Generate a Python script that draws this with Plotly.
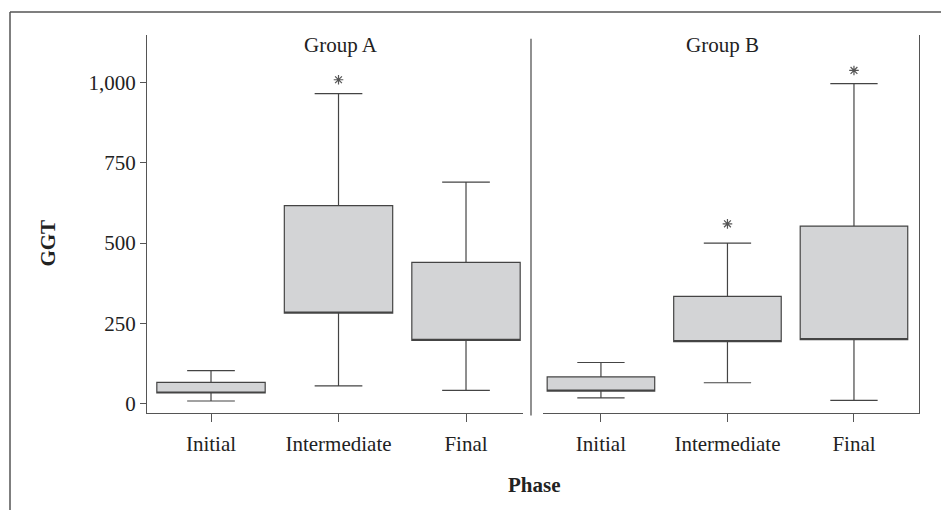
import plotly.graph_objects as go

phases = ["Initial", "Intermediate", "Final"]

# Group A box statistics (GGT)
a_lower = [8, 55, 41]
a_q1 = [33, 282, 197]
a_q3 = [66, 617, 440]
a_upper = [103, 966, 690]
a_out_x = ["Intermediate"]
a_out_y = [1009]

# Group B box statistics (GGT)
b_lower = [18, 65, 10]
b_q1 = [39, 193, 199]
b_q3 = [83, 334, 553]
b_upper = [128, 500, 997]
b_out_x = ["Intermediate", "Final"]
b_out_y = [560, 1038]

yticks = [0, 250, 500, 750, 1000]

W, H = 941, 513
FONT = "Liberation Serif"
FS = 21
FILL = "#d3d4d6"
LINE = "#444444"
TXT = "#222222"


def px(x):
    return x / W


def py(y):
    return 1 - y / H


fig = go.Figure()

for xa, ya, lo, q1, q3, up, ox, oy in [
    ("x", "y", a_lower, a_q1, a_q3, a_upper, a_out_x, a_out_y),
    ("x2", "y2", b_lower, b_q1, b_q3, b_upper, b_out_x, b_out_y),
]:
    fig.add_trace(go.Box(
        x=phases, q1=q1, median=q1, q3=q3, lowerfence=lo, upperfence=up,
        xaxis=xa, yaxis=ya, fillcolor=FILL,
        line=dict(color=LINE, width=1.2), width=0.85, whiskerwidth=0.44,
        boxpoints=False, showlegend=False, hoverinfo="skip",
    ))
    fig.add_trace(go.Scatter(
        x=ox, y=oy, xaxis=xa, yaxis=ya, mode="markers",
        marker=dict(symbol="asterisk-open", size=8, color="#555555",
                    line=dict(color="#555555", width=1.2)),
        showlegend=False, hoverinfo="skip",
    ))

yr = [-28, 1149]
ydom = [py(415), py(35)]
axis_common = dict(showgrid=False, zeroline=False, showline=True,
                   linecolor="#555555", linewidth=1.3,
                   tickfont=dict(family=FONT, size=FS, color=TXT))

fig.update_layout(
    width=W, height=H, margin=dict(l=0, r=0, t=0, b=0),
    paper_bgcolor="white", plot_bgcolor="white",
    font=dict(family=FONT, size=FS, color=TXT),
    xaxis=dict(domain=[px(147), px(523)], range=[-0.502, 2.447],
               type="category", ticks="outside", ticklen=8, tickcolor="#555555",
               ticklabelstandoff=4, anchor="y", **axis_common),
    xaxis2=dict(domain=[px(543), px(919)], range=[-0.458, 2.514],
                type="category", ticks="outside", ticklen=8, tickcolor="#555555",
                ticklabelstandoff=4, anchor="y2", **axis_common),
    yaxis=dict(domain=ydom, range=yr, tickvals=yticks, tickformat=",",
               ticks="outside", ticklen=6, tickcolor="#555555",
               ticklabelstandoff=0, anchor="x", **axis_common),
    yaxis2=dict(domain=ydom, range=yr, tickvals=yticks, showticklabels=False,
                ticks="", side="right", anchor="x2", **axis_common),
)

fig.add_annotation(text="Group A", x="Intermediate", xref="x", y=py(45), yref="paper",
                   showarrow=False, font=dict(family=FONT, size=FS, color=TXT),
                   xanchor="center", yanchor="middle", xshift=2)
fig.add_annotation(text="Group B", x="Intermediate", xref="x2", y=py(45), yref="paper",
                   showarrow=False, font=dict(family=FONT, size=FS, color=TXT),
                   xanchor="center", yanchor="middle", xshift=-5)
fig.add_annotation(text="<b>GGT</b>", x=px(48), y=py(245), xref="paper", yref="paper",
                   textangle=-90, showarrow=False, xanchor="center", yanchor="middle",
                   font=dict(family=FONT, size=FS, color=TXT))
fig.add_annotation(text="<b>Phase</b>", x=px(534), y=py(488), xref="paper", yref="paper",
                   showarrow=False, xanchor="center", yanchor="middle",
                   font=dict(family=FONT, size=FS, color=TXT))

# separator between the two panels and outer frame
fig.add_shape(type="line", xref="paper", yref="paper",
              x0=px(531), x1=px(531), y0=py(418), y1=py(39),
              line=dict(color="#555555", width=1.3))
fig.add_shape(type="line", xref="paper", yref="paper",
              x0=px(10), x1=1, y0=py(12), y1=py(12),
              line=dict(color="#555555", width=1.5))
fig.add_shape(type="line", xref="paper", yref="paper",
              x0=px(10), x1=px(10), y0=0, y1=py(12),
              line=dict(color="#555555", width=1.5))

fig.write_html("out.html", config={"displayModeBar": False},
               post_script="document.body.style.margin='0';document.body.style.overflow='hidden';")
